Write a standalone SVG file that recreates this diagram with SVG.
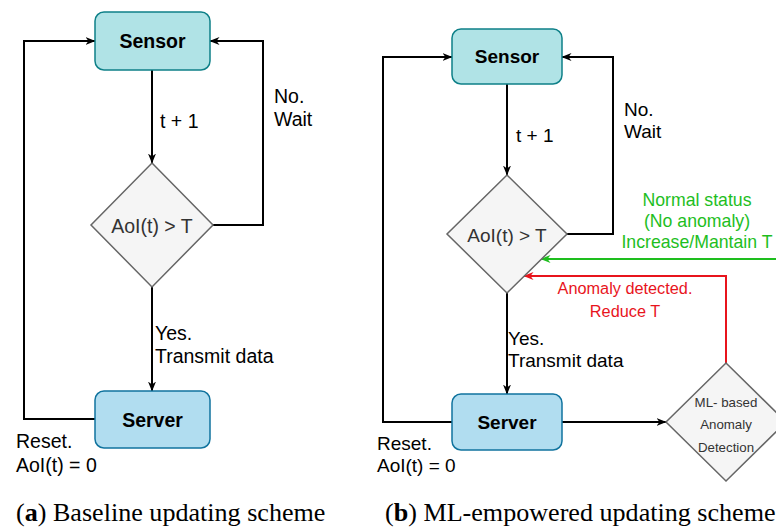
<svg xmlns="http://www.w3.org/2000/svg" width="776" height="529" viewBox="0 0 776 529">
<defs>
<marker id="ab" viewBox="0 0 10 8" refX="9.5" refY="4" markerWidth="10" markerHeight="8" markerUnits="userSpaceOnUse" orient="auto">
<path d="M0,0 L10,4 L0,8 L3,4 z" fill="#000"/>
</marker>
<marker id="ag" viewBox="0 0 10 8" refX="9.5" refY="4" markerWidth="10" markerHeight="8" markerUnits="userSpaceOnUse" orient="auto">
<path d="M0,0 L10,4 L0,8 L3,4 z" fill="#1ebe1e"/>
</marker>
<marker id="ar" viewBox="0 0 10 8" refX="9.5" refY="4" markerWidth="10" markerHeight="8" markerUnits="userSpaceOnUse" orient="auto">
<path d="M0,0 L10,4 L0,8 L3,4 z" fill="#e8141c"/>
</marker>
</defs>
<style>
.sensor{fill:#b0e3e6;stroke:#0e8088;stroke-width:1.5}
.server{fill:#b1ddf0;stroke:#10739e;stroke-width:1.5}
.dia{fill:#f5f5f5;stroke:#666666;stroke-width:1.5}
.t{font-family:"Liberation Sans",Arial,sans-serif;fill:#000}
.b{font-weight:bold;text-anchor:middle}
.dt{fill:#333333;text-anchor:middle}
.c{fill:none;stroke:#000;stroke-width:2;marker-end:url(#ab)}
.cg{fill:none;stroke:#1ebe1e;stroke-width:2;marker-end:url(#ag)}
.cr{fill:none;stroke:#e8141c;stroke-width:2;marker-end:url(#ar)}
.cap{font-family:"Liberation Serif","Times New Roman",serif;font-size:26.1px;fill:#000}
</style>

<g id="connectors">
<path class="c" d="M152,70 V163"/>
<path class="c" d="M152,287 V391"/>
<path class="c" d="M213,225 H263 V41 H210"/>
<path class="c" d="M95,419 H24 V41 H95"/>
<path class="c" d="M507,84 V175"/>
<path class="c" d="M507,293 V394"/>
<path class="c" d="M567,234 H613 V57 H562"/>
<path class="c" d="M452,422 H383 V57 H452"/>
<path class="c" d="M562,422 H666"/>
<path class="cg" d="M778,259 H541"/>
<path class="cr" d="M726,363 V276 H524"/>
</g>

<g id="sensor-a">
<rect class="sensor" x="95" y="12" width="115" height="58" rx="9"/>
<text class="t b" x="152.5" y="48" font-size="19.5">Sensor</text>
</g>
<g id="decision-a">
<polygon class="dia" points="152,163 213,225 152,287 91,225"/>
<text class="t dt" x="152" y="233" font-size="19.5">AoI(t) &gt; T</text>
</g>
<g id="server-a">
<rect class="server" x="95" y="391" width="115" height="57" rx="9"/>
<text class="t b" x="152.5" y="427" font-size="19.5">Server</text>
</g>
<g id="labels-a" class="t" font-size="19.5">
<text x="160" y="128">t + 1</text>
<text x="274" y="103">No.</text>
<text x="274" y="126">Wait</text>
<text x="155" y="340">Yes.</text>
<text x="155" y="363">Transmit data</text>
<text x="16" y="448">Reset.</text>
<text x="16" y="472">AoI(t) = 0</text>
</g>

<g id="sensor-b">
<rect class="sensor" x="452" y="29" width="110" height="55" rx="9"/>
<text class="t b" x="507" y="63" font-size="19">Sensor</text>
</g>
<g id="decision-b">
<polygon class="dia" points="507,175 567,234 507,293 447,234"/>
<text class="t dt" x="507" y="241.5" font-size="19">AoI(t) &gt; T</text>
</g>
<g id="server-b">
<rect class="server" x="452" y="394" width="110" height="56" rx="9"/>
<text class="t b" x="507" y="429" font-size="19">Server</text>
</g>
<g id="ml-detection">
<polygon class="dia" points="726,363 786,422 726,481 666,422"/>
<text class="t dt" x="726" y="407" font-size="13.3">ML- based</text>
<text class="t dt" x="726" y="429" font-size="13.3">Anomaly</text>
<text class="t dt" x="726" y="452" font-size="13.3">Detection</text>
</g>
<g id="labels-b" class="t" font-size="19">
<text x="516" y="142">t + 1</text>
<text x="624" y="116">No.</text>
<text x="624" y="138">Wait</text>
<text x="508" y="345">Yes.</text>
<text x="508" y="367">Transmit data</text>
<text x="377" y="450">Reset.</text>
<text x="377" y="472">AoI(t) = 0</text>
</g>
<g id="green-label" class="t" font-size="17.7" text-anchor="middle">
<text x="697" y="206" style="fill:#1ebe1e">Normal status</text>
<text x="697" y="227" style="fill:#1ebe1e">(No anomaly)</text>
<text x="697" y="248" style="fill:#1ebe1e">Increase/Mantain T</text>
</g>
<g id="red-label" class="t" font-size="16.3" text-anchor="middle">
<text x="625" y="294" style="fill:#e8141c">Anomaly detected.</text>
<text x="625" y="317" style="fill:#e8141c">Reduce T</text>
</g>

<g id="captions">
<text class="cap" x="16" y="521">(<tspan font-weight="bold">a</tspan>) Baseline updating scheme</text>
<text class="cap" x="385" y="521">(<tspan font-weight="bold">b</tspan>) ML-empowered updating scheme</text>
</g>
</svg>
